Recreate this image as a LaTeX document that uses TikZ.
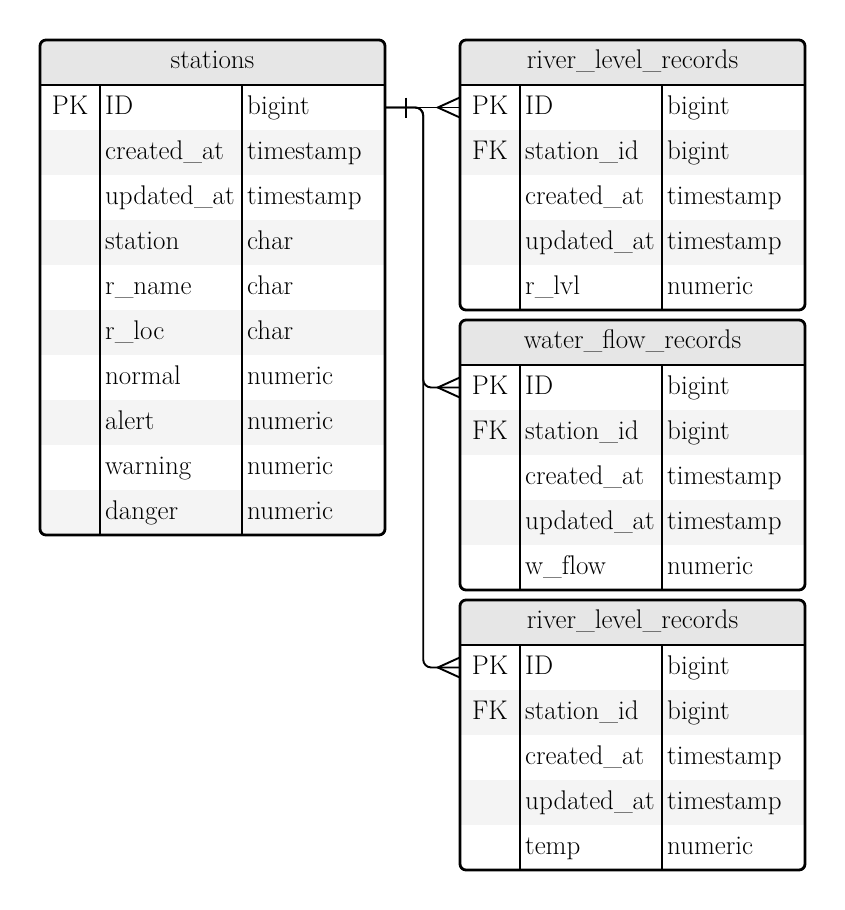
\documentclass[tikz,border=0pt]{standalone}
\usepackage{tikz}
\tikzset{
  x=1pt, y=-1pt,
  tabline/.style={line width=2.8pt, line join=round},
  conn/.style={line width=1.9pt},
  celltext/.style={anchor=base west, inner sep=0pt, font=\fontsize{27}{32}\selectfont},
  keytext/.style={anchor=base, inner sep=0pt, font=\fontsize{27}{32}\selectfont},
  rowbox/.style={minimum width=345pt, minimum height=45pt, inner sep=0pt, draw=none},
}
\definecolor{hdrgray}{HTML}{E6E6E6}
\definecolor{rowgray}{HTML}{F4F4F4}
% #1 name, #2 x left, #3 y top, #4 title, #5 number of rows, #6 rows
\newcommand{\ertable}[6]{%
  \begin{scope}
    \clip[rounded corners=6pt] (#2,#3) rectangle ++(345,{45*(#5+1)});
    \fill[hdrgray] (#2,#3) rectangle ++(345,45);
    \foreach \kk/\nn/\tt [count=\ii] in {#6} {
      \ifodd\ii\else
        \fill[rowgray] (#2,{#3+45*\ii}) rectangle ++(345,45);
      \fi
    }
  \end{scope}
  \foreach \kk/\nn/\tt [count=\ii] in {#6} {
    \node[rowbox] (#1-r\ii) at ({#2+172.5},{#3+45*\ii+22.5}) {};
    \node[keytext] (#1-k\ii) at ({#2+30},{#3+45*\ii+29}) {\kk};
    \node[celltext] (#1-n\ii) at ({#2+65},{#3+45*\ii+29}) {\nn};
    \node[celltext] (#1-t\ii) at ({#2+207},{#3+45*\ii+29}) {\tt};
  }
  \node[keytext] (#1-title) at ({#2+172.5},{#3+28}) {#4};
  \draw[tabline] (#2,{#3+45}) -- ++(345,0);
  \draw[tabline] ({#2+60},{#3+45}) -- ({#2+60},{#3+45*(#5+1)});
  \draw[tabline] ({#2+202},{#3+45}) -- ({#2+202},{#3+45*(#5+1)});
  \draw[tabline, rounded corners=6pt] (#2,#3) rectangle ++(345,{45*(#5+1)});
}
\begin{document}
\begin{tikzpicture}
\useasboundingbox (0,0) rectangle (845,910);
\ertable{st}{40}{40}{stations}{10}{PK/ID/bigint, /created\_at/timestamp, /updated\_at/timestamp, /station/char, /r\_name/char, /r\_loc/char, /normal/numeric, /alert/numeric, /warning/numeric, /danger/numeric}
\ertable{rl}{460}{40}{river\_level\_records}{5}{PK/ID/bigint, FK/station\_id/bigint, /created\_at/timestamp, /updated\_at/timestamp, /r\_lvl/numeric}
\ertable{wf}{460}{320}{water\_flow\_records}{5}{PK/ID/bigint, FK/station\_id/bigint, /created\_at/timestamp, /updated\_at/timestamp, /w\_f\kern0ptlow/numeric}
\ertable{tp}{460}{600}{river\_level\_records}{5}{PK/ID/bigint, FK/station\_id/bigint, /created\_at/timestamp, /updated\_at/timestamp, /temp/numeric}
% connectors
\coordinate (jn) at ([xshift=38pt]st-r1.east);
\draw[conn] (st-r1.east) -- (rl-r1.west);
\draw[conn, rounded corners=8pt] (st-r1.east) -- (jn) |- (wf-r1.west);
\draw[conn, rounded corners=8pt] (st-r1.east) -- (jn) |- (tp-r1.west);
% one mark
\draw[conn] ([xshift=21pt]st-r1.east) ++(0,-10) -- ++(0,20);
% crow's feet
\foreach \t in {rl,wf,tp} {
  \draw[conn] (\t-r1.west) ++(0,-10) -- ++(-22,10) -- ++(22,10);
}
\end{tikzpicture}
\end{document}
